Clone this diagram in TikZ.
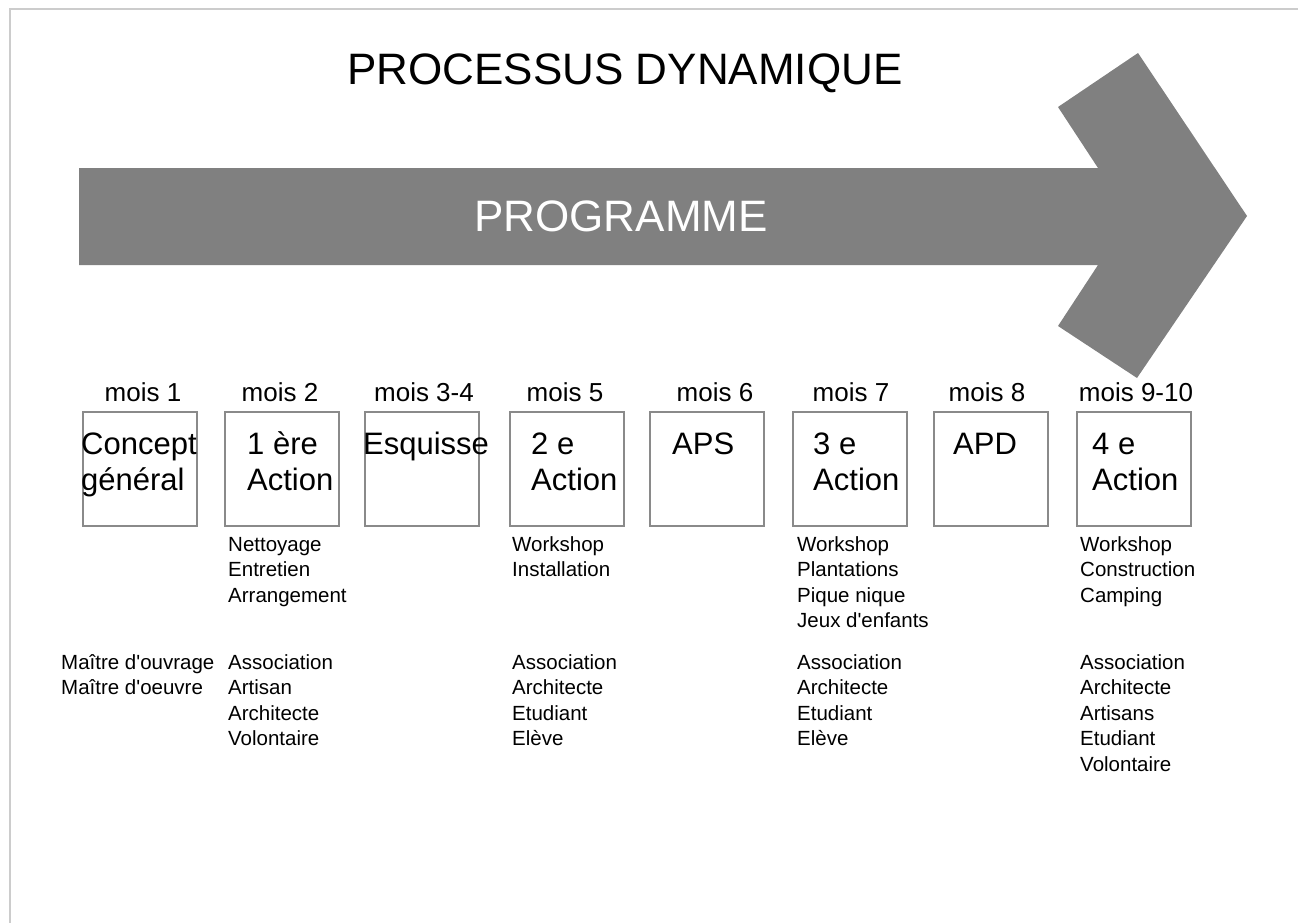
\documentclass[tikz,border=0pt]{standalone}
\usepackage{fontspec}
\setmainfont{Liberation Sans}[Ligatures=TeXOff]
\definecolor{arrowgray}{HTML}{808080}
\definecolor{boxgray}{HTML}{8A8A8A}
\definecolor{framegray}{HTML}{CCCCCC}
\newcommand{\tlines}[1]{\begin{tabular}[t]{@{}l@{}}#1\end{tabular}}
\tikzset{
  stepbox/.style={draw=boxgray, line width=1.3pt, minimum width=114pt, minimum height=114pt, inner sep=0pt},
  moislbl/.style={anchor=base, inner sep=0pt, font=\fontsize{26}{30}\selectfont},
  boxtxt/.style={anchor=base west, inner sep=0pt, font=\fontsize{31}{36}\selectfont},
  listtxt/.style={anchor=base west, inner sep=0pt, font=\fontsize{20.5}{25.6}\selectfont},
}
\begin{document}
\begin{tikzpicture}[x=1pt,y=-1pt]
\useasboundingbox (0,0) rectangle (1298,923);
\draw[framegray, line width=1.5pt] (10,923) -- (10,9) -- (1298,9);
\fill[arrowgray] (79,168) -- (1098,168) -- (1058,107) -- (1138,53) -- (1247,216)
  -- (1137,378) -- (1058,326) -- (1098,265) -- (79,265) -- cycle;
\node[anchor=base, inner sep=0pt, font=\fontsize{44}{50}\selectfont] (title) at (625,85) {PROCESSUS DYNAMIQUE};
\node[anchor=base, inner sep=0pt, text=white, font=\fontsize{44}{50}\selectfont] (prog) at (621,231) {PROGRAMME};
% boxes
\node[stepbox] (b1) at (140,469) {};
\node[stepbox] (b2) at (282,469) {};
\node[stepbox] (b3) at (422,469) {};
\node[stepbox] (b4) at (567,469) {};
\node[stepbox] (b5) at (707,469) {};
\node[stepbox] (b6) at (850,469) {};
\node[stepbox] (b7) at (991,469) {};
\node[stepbox] (b8) at (1134,469) {};
% month labels
\node[moislbl] (m1) at (143,401) {mois 1};
\node[moislbl] (m2) at (280,401) {mois 2};
\node[moislbl] (m3) at (424,401) {mois 3-4};
\node[moislbl] (m4) at (565,401) {mois 5};
\node[moislbl] (m5) at (715,401) {mois 6};
\node[moislbl] (m6) at (851,401) {mois 7};
\node[moislbl] (m7) at (987,401) {mois 8};
\node[moislbl] (m8) at (1136,401) {mois 9-10};
% box texts
\node[boxtxt] (t1) at (81,454) {\tlines{Concept\\général}};
\node[boxtxt] (t2) at (247,454) {\tlines{1 ère\\Action}};
\node[boxtxt] (t3) at (363,454) {Esquisse};
\node[boxtxt] (t4) at (531,454) {\tlines{2 e\\Action}};
\node[boxtxt] (t5) at (672,454) {APS};
\node[boxtxt] (t6) at (813,454) {\tlines{3 e\\Action}};
\node[boxtxt] (t7) at (953,454) {APD};
\node[boxtxt] (t8) at (1092,454) {\tlines{4 e\\Action}};
% activities
\node[listtxt] (a2) at (228,551) {\tlines{Nettoyage\\Entretien\\Arrangement}};
\node[listtxt] (a4) at (512,551) {\tlines{Workshop\\Installation}};
\node[listtxt] (a6) at (797,551) {\tlines{Workshop\\Plantations\\Pique nique\\Jeux d'enfants}};
\node[listtxt] (a8) at (1080,551) {\tlines{Workshop\\Construction\\Camping}};
% actors
\node[listtxt] (p1) at (61,669) {\tlines{Maître d'ouvrage\\Maître d'oeuvre}};
\node[listtxt] (p2) at (228,669) {\tlines{Association\\Artisan\\Architecte\\Volontaire}};
\node[listtxt] (p4) at (512,669) {\tlines{Association\\Architecte\\Etudiant\\Elève}};
\node[listtxt] (p6) at (797,669) {\tlines{Association\\Architecte\\Etudiant\\Elève}};
\node[listtxt] (p8) at (1080,669) {\tlines{Association\\Architecte\\Artisans\\Etudiant\\Volontaire}};
\end{tikzpicture}
\end{document}
